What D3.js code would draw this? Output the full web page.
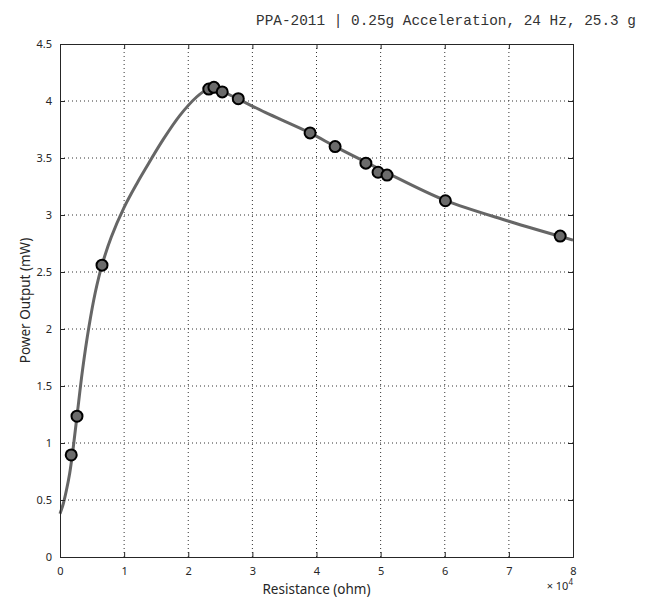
<!DOCTYPE html>
<html><head><meta charset="utf-8">
<script src="https://cdn.jsdelivr.net/npm/d3@7"></script>
<style>body{margin:0;background:#fff}svg{display:block}</style>
</head><body>
<script>
const titleText = "PPA-2011 | 0.25g Acceleration, 24 Hz, 25.3 g";
const xTicks = [0,10000,20000,30000,40000,50000,60000,70000,80000];
const xTickLabels = ["0","1","2","3","4","5","6","7","8"];
const yTicks = [0,0.5,1,1.5,2,2.5,3,3.5,4,4.5];
const yTickLabels = ["0","0.5","1","1.5","2","2.5","3","3.5","4","4.5"];
// measured points (ohm, mW)
const pointR = [1750,2650,6550,23200,24000,25300,27800,39000,42900,47700,49600,51000,60100,78000];
const pointP = [0.895,1.235,2.56,4.105,4.12,4.08,4.02,3.72,3.60,3.455,3.375,3.35,3.125,2.815];
// fitted curve
const curveR = [0,500,1000,1500,2000,2650,3500,4500,5500,6550,8000,10000,12000,13300,16100,18700,21300,22600,24000,28000,32000,39000,43000,48000,51000,60000,70000,80000];
const curveP = [0.38,0.465,0.585,0.73,0.93,1.235,1.635,2.015,2.32,2.56,2.807,3.067,3.277,3.403,3.663,3.874,4.035,4.09,4.11,4.01,3.90,3.72,3.598,3.455,3.37,3.13,2.945,2.78];

(function(){
const W=646,H=599;
const svg=d3.select("body").append("svg").attr("width",W).attr("height",H);
const x=d3.scaleLinear().domain([0,80000]).range([60,573]);
const y=d3.scaleLinear().domain([0,4.5]).range([557,44]);
const font="'Noto Sans', 'DejaVu Sans', sans-serif";

// grid
const g=svg.append("g");
g.selectAll("line.gx").data(xTicks.slice(1,-1)).join("line")
 .attr("x1",d=>x(d)).attr("x2",d=>x(d)).attr("y1",y(0)).attr("y2",y(4.5))
 .attr("stroke","#333").attr("stroke-width",1).attr("stroke-dasharray","1,3");
g.selectAll("line.gy").data(yTicks.slice(1,-1)).join("line")
 .attr("y1",d=>y(d)).attr("y2",d=>y(d)).attr("x1",x(0)).attr("x2",x(80000))
 .attr("stroke","#333").attr("stroke-width",1).attr("stroke-dasharray","1,3");

// curve
const line=d3.line().x((d,i)=>x(curveR[i])).y((d,i)=>y(curveP[i])).curve(d3.curveCatmullRom.alpha(0.5));
svg.append("path").datum(curveP).attr("d",line).attr("fill","none")
 .attr("stroke","#666").attr("stroke-width",3);

// points
svg.selectAll("circle.p").data(pointR).join("circle")
 .attr("cx",d=>x(d)).attr("cy",(d,i)=>y(pointP[i])).attr("r",5.5)
 .attr("fill","#6b6b6b").attr("stroke","#000").attr("stroke-width",2);

// axes
const axCol="#262626";
const axB=d3.axisBottom(x).tickValues(xTicks).tickFormat((d,i)=>xTickLabels[i]).tickSize(-5).tickPadding(10);
const axL=d3.axisLeft(y).tickValues(yTicks).tickFormat((d,i)=>yTickLabels[i]).tickSize(-5).tickPadding(8);
const axT=d3.axisTop(x).tickValues(xTicks).tickFormat("").tickSize(-5);
const axR=d3.axisRight(y).tickValues(yTicks).tickFormat("").tickSize(-5);
const gb=svg.append("g").attr("transform",`translate(0,${y(0)})`).call(axB);
const gl=svg.append("g").attr("transform",`translate(${x(0)},0)`).call(axL);
const gt=svg.append("g").attr("transform",`translate(0,${y(4.5)})`).call(axT);
const gr=svg.append("g").attr("transform",`translate(${x(80000)},0)`).call(axR);
[gb,gl,gt,gr].forEach(a=>{
  a.select(".domain").attr("stroke",axCol).attr("stroke-width",1);
  a.selectAll(".tick line").attr("stroke",axCol);
  a.selectAll("text").attr("fill","#262626").style("font-family",font).style("font-size","11px");
});

// labels
svg.append("text").attr("x",(x(0)+x(80000))/2).attr("y",594).attr("text-anchor","middle")
 .style("font-family",font).style("font-size","13.5px").attr("fill","#262626").text("Resistance (ohm)");
svg.append("text").attr("transform",`translate(30,${(y(0)+y(4.5))/2}) rotate(-90)`).attr("text-anchor","middle")
 .style("font-family",font).style("font-size","13.5px").attr("fill","#262626").text("Power Output (mW)");
const mult=svg.append("text").attr("x",573).attr("y",590).attr("text-anchor","end")
 .style("font-family",font).style("font-size","11px").attr("fill","#262626");
mult.append("tspan").text("× 10");
mult.append("tspan").attr("dy",-5).style("font-size","8px").text("4");

svg.append("text").attr("x",446).attr("y",25).attr("text-anchor","middle")
 .style("font-family","'Liberation Mono', 'Courier New', monospace").style("font-size","14.4px")
 .attr("fill","#333").text(titleText);
})();
</script>
</body></html>
